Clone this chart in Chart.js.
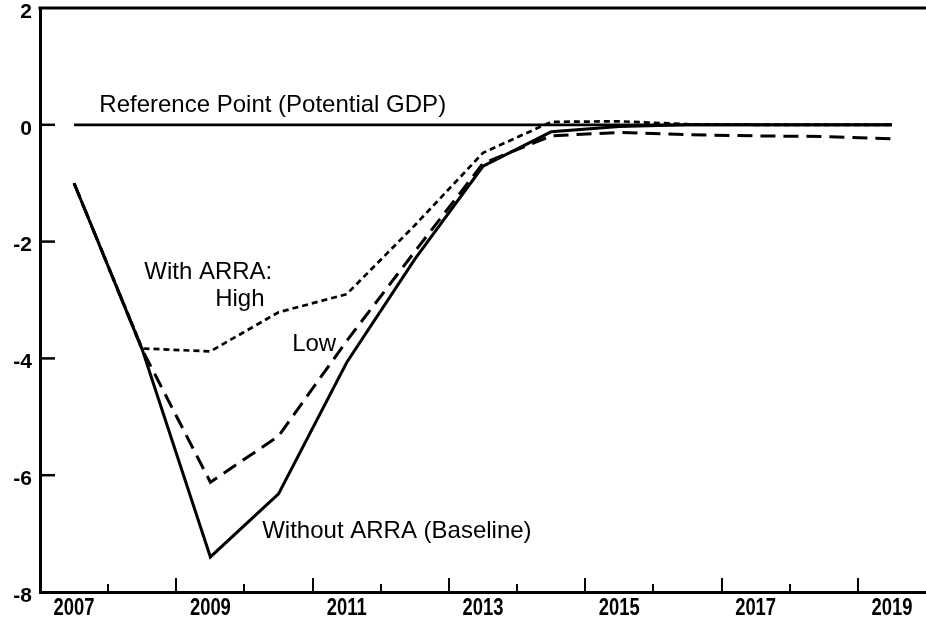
<!DOCTYPE html>
<html>
<head>
<meta charset="utf-8">
<script src="https://cdn.jsdelivr.net/npm/chart.js@4/dist/chart.umd.min.js"></script>
<style>
  html, body { margin: 0; padding: 0; background: #fff; }
  #wrap { width: 926px; height: 619px; }
</style>
</head>
<body>
<div id="wrap"><canvas id="grafica" width="926" height="619"></canvas></div>
<script>
// años (categorías)
const years = ['2007','2008','2009','2010','2011','2012','2013','2014','2015','2016','2017','2018','2019'];
// sin ARRA (línea base)
const baseline = [-1.0, -3.85, -7.4, -6.32, -4.07, -2.3, -0.71, -0.12, -0.03, 0, 0, 0, 0];
// con ARRA: bajo
const low = [-1.0, -3.85, -6.12, -5.33, -3.7, -2.17, -0.66, -0.19, -0.13, -0.17, -0.19, -0.2, -0.24];
// con ARRA: alto
const high = [-1.0, -3.83, -3.88, -3.21, -2.9, -1.72, -0.48, 0.05, 0.06, 0.01, 0, 0, 0];
// punto de referencia (PIB potencial)
const reference = [0, 0, 0, 0, 0, 0, 0, 0, 0, 0, 0, 0, 0];
const yTicks = [-8, -6, -4, -2, 0, 2];

// etiquetas: [posición en categorías, valor y, texto]
const notas = [
  [0.37, 0.34, 'Reference Point (Potential GDP)'],
  [1.03, -2.53, 'With ARRA:'],
  [2.07, -2.99, 'High'],
  [3.2, -3.76, 'Low'],
  [2.76, -6.97, 'Without ARRA (Baseline)']
];

const marcas = {
  id: 'marcas',
  afterDraw(chart) {
    const c = chart.ctx, a = chart.chartArea;
    const x = chart.scales.x, y = chart.scales.y;
    c.save();
    c.strokeStyle = '#000';
    c.lineWidth = 3;
    c.beginPath();
    c.moveTo(a.left - 1.5, a.top);
    c.lineTo(a.right, a.top);
    c.stroke();

    c.lineWidth = 2.5;
    yTicks.forEach(v => {
      if (v <= -8 || v >= 2) return;
      const py = y.getPixelForValue(v);
      c.beginPath();
      c.moveTo(a.left, py);
      c.lineTo(a.left + 15, py);
      c.stroke();
    });

    c.lineWidth = 2;
    for (let i = 0; i < years.length - 1; i++) {
      const px = Math.round((x.getPixelForValue(i) + x.getPixelForValue(i + 1)) / 2);
      const len = i % 2 ? 14 : 8;
      c.beginPath();
      c.moveTo(px, a.bottom);
      c.lineTo(px, a.bottom - len);
      c.stroke();
    }

    // años en letra estrecha
    c.fillStyle = '#000';
    c.font = 'bold 23px "Liberation Sans", Arial, sans-serif';
    c.textAlign = 'center';
    c.textBaseline = 'alphabetic';
    years.forEach((yr, i) => {
      if (i % 2) return;
      c.save();
      c.translate(x.getPixelForValue(i), a.bottom + 23);
      c.scale(0.8, 1);
      c.fillText(yr, 0, 0);
      c.restore();
    });

    const paso = x.getPixelForValue(1) - x.getPixelForValue(0);
    c.font = '24px "Liberation Sans", Arial, sans-serif';
    c.textBaseline = 'middle';
    c.textAlign = 'left';
    notas.forEach(n => {
      c.fillText(n[2], x.getPixelForValue(0) + n[0] * paso, y.getPixelForValue(n[1]));
    });
    c.restore();
  }
};

const ctx = document.getElementById('grafica');
new Chart(ctx, {
  type: 'line',
  data: {
    labels: years,
    datasets: [
      { data: baseline, borderColor: '#000', borderWidth: 3 },
      { data: low, borderColor: '#000', borderWidth: 3, borderDash: [15, 8] },
      { data: high, borderColor: '#000', borderWidth: 2.7, borderDash: [6, 4] },
      { data: reference, borderColor: '#000', borderWidth: 2.7 }
    ]
  },
  options: {
    responsive: false,
    animation: false,
    events: [],
    layout: { padding: { top: 8, left: 0, right: 0, bottom: 0 } },
    elements: { point: { radius: 0 }, line: { tension: 0 } },
    plugins: { legend: { display: false }, tooltip: { enabled: false } },
    scales: {
      x: {
        offset: true,
        grid: { display: false, drawTicks: false, offset: true },
        border: { display: true, color: '#000', width: 3 },
        ticks: { display: false },
        afterFit(s) { s.height = 27; s.paddingLeft = 0; s.paddingRight = 0; }
      },
      y: {
        min: -8,
        max: 2,
        grid: { display: false, drawTicks: false },
        border: { display: true, color: '#000', width: 3 },
        ticks: {
          stepSize: 2,
          padding: 8,
          labelOffset: 4,
          color: '#000',
          font: { family: '"Liberation Sans", Arial, sans-serif', size: 21, weight: 'bold' }
        },
        afterFit(s) { s.width = 40; s.paddingTop = 0; s.paddingBottom = 0; }
      }
    }
  },
  plugins: [marcas]
});
</script>
</body>
</html>
